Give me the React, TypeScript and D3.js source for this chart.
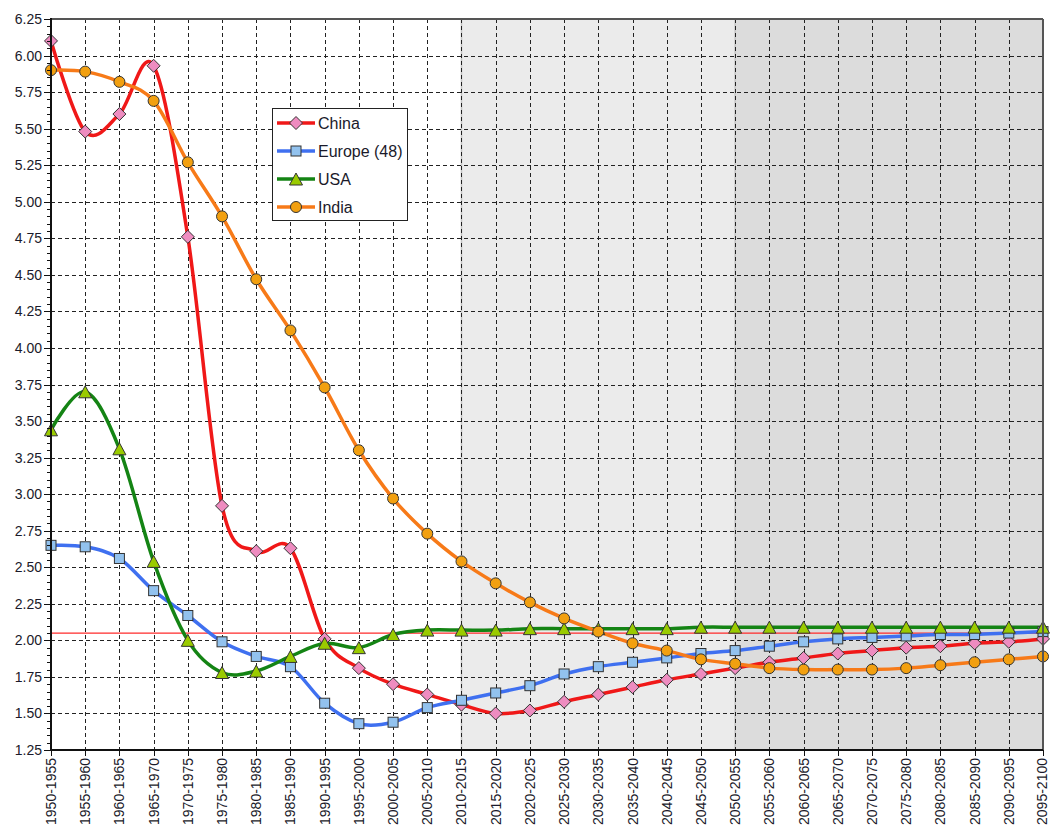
import React from "react";
import * as d3 from "d3";

const periods = [
  "1950-1955","1955-1960","1960-1965","1965-1970","1970-1975","1975-1980","1980-1985","1985-1990","1990-1995","1995-2000",
  "2000-2005","2005-2010","2010-2015","2015-2020","2020-2025","2025-2030","2030-2035","2035-2040","2040-2045","2045-2050",
  "2050-2055","2055-2060","2060-2065","2065-2070","2070-2075","2075-2080","2080-2085","2085-2090","2090-2095","2095-2100",
];

const china = [6.10, 5.48, 5.60, 5.93, 4.76, 2.92, 2.61, 2.63, 2.01, 1.81, 1.70, 1.63, 1.56, 1.50, 1.52, 1.58, 1.63, 1.68, 1.73, 1.77, 1.81, 1.85, 1.88, 1.91, 1.93, 1.95, 1.96, 1.98, 1.99, 2.01];
const europe = [2.65, 2.64, 2.56, 2.34, 2.17, 1.99, 1.89, 1.82, 1.57, 1.43, 1.44, 1.54, 1.59, 1.64, 1.69, 1.77, 1.82, 1.85, 1.88, 1.91, 1.93, 1.96, 1.99, 2.01, 2.02, 2.03, 2.04, 2.04, 2.05, 2.06];
const usa = [3.44, 3.70, 3.31, 2.54, 2.00, 1.78, 1.79, 1.89, 1.98, 1.95, 2.04, 2.07, 2.07, 2.07, 2.08, 2.08, 2.08, 2.08, 2.08, 2.09, 2.09, 2.09, 2.09, 2.09, 2.09, 2.09, 2.09, 2.09, 2.09, 2.09];
const india = [5.90, 5.89, 5.82, 5.69, 5.27, 4.90, 4.47, 4.12, 3.73, 3.30, 2.97, 2.73, 2.54, 2.39, 2.26, 2.15, 2.06, 1.98, 1.93, 1.87, 1.84, 1.81, 1.80, 1.80, 1.80, 1.81, 1.83, 1.85, 1.87, 1.89];

const seriesNames = ["China", "Europe (48)", "USA", "India"];
const replacementLevel = 2.05;
const yMajorTicks = d3.range(1.25, 6.2501, 0.25);
const yMinorTicks = d3.range(1.25, 6.2501, 0.05);
const shadeStartLight = "2010-2015";
const shadeStartDark = "2050-2055";

const L = 51, R = 1043, T = 19, B = 750;
const FONT = "'Liberation Sans', Arial, sans-serif";

type Series = { name: string; values: number[]; line: string; fill: string; marker: string };
const series: Series[] = [
  { name: seriesNames[0], values: china, line: "#f01818", fill: "#ee8cc0", marker: "diamond" },
  { name: seriesNames[1], values: europe, line: "#3f70f0", fill: "#92c2ee", marker: "square" },
  { name: seriesNames[2], values: usa, line: "#148414", fill: "#9acb00", marker: "triangle" },
  { name: seriesNames[3], values: india, line: "#f77a18", fill: "#f2a010", marker: "circle" },
];

function Marker({ type, x, y, fill }: { type: string; x: number; y: number; fill: string }) {
  const stroke = "#333";
  if (type === "diamond") {
    const s = 6.5;
    return <path d={`M${x},${y - s}L${x + s},${y}L${x},${y + s}L${x - s},${y}Z`} fill={fill} stroke={stroke} strokeWidth={1} />;
  }
  if (type === "square") {
    const s = 5;
    return <rect x={x - s} y={y - s} width={2 * s} height={2 * s} fill={fill} stroke={stroke} strokeWidth={1} />;
  }
  if (type === "triangle") {
    const w = 6.5, h = 12;
    return <path d={`M${x},${y - h / 2}L${x + w},${y + h / 2}L${x - w},${y + h / 2}Z`} fill={fill} stroke={stroke} strokeWidth={1} />;
  }
  return <circle cx={x} cy={y} r={5.5} fill={fill} stroke={stroke} strokeWidth={1} />;
}

export default function App() {
  const x = d3.scalePoint<string>().domain(periods).range([L, R]);
  const y = d3.scaleLinear().domain([1.25, 6.25]).range([B, T]);
  const line = d3
    .line<number>()
    .x((_, i) => x(periods[i]) as number)
    .y((d) => y(d))
    .curve(d3.curveCatmullRom.alpha(0));
  const fmt = d3.format(".2f");
  const xl = x(shadeStartLight) as number;
  const xd = x(shadeStartDark) as number;

  return (
    <svg width={1050} height={828} style={{ position: "absolute", left: 0, top: 0, background: "#fff" }}>
      {/* shading */}
      <rect x={xl} y={T} width={xd - xl} height={B - T} fill="#ebebeb" />
      <rect x={xd} y={T} width={R - xd} height={B - T} fill="#dcdcdc" />
      <line x1={xl} x2={xl} y1={T} y2={B} stroke="#c4c4c4" strokeWidth={1.5} />
      <line x1={xd} x2={xd} y1={T} y2={B} stroke="#c4c4c4" strokeWidth={1.5} />

      {/* grid */}
      {yMajorTicks.filter((v) => v > 1.26 && v < 6.24).map((v) => (
        <line key={"gy" + v} x1={L} x2={R} y1={Math.round(y(v)) + 0.5} y2={Math.round(y(v)) + 0.5} stroke="#222" strokeWidth={1} strokeDasharray="4,3" />
      ))}
      {periods.slice(1, -1).map((p) => (
        <line key={"gx" + p} x1={Math.round(x(p) as number) + 0.5} x2={Math.round(x(p) as number) + 0.5} y1={T} y2={B} stroke="#222" strokeWidth={1} strokeDasharray="4,3" />
      ))}

      {/* replacement line */}
      <line x1={L} x2={R} y1={y(replacementLevel)} y2={y(replacementLevel)} stroke="#ff2a2a" strokeWidth={1.3} />

      {/* series lines */}
      {series.map((s) => (
        <path key={"l" + s.name} d={line(s.values) as string} fill="none" stroke={s.line} strokeWidth={3.5} strokeLinejoin="round" />
      ))}
      {/* markers */}
      {series.map((s) =>
        s.values.map((v, i) => (
          <Marker key={s.name + i} type={s.marker} x={x(periods[i]) as number} y={y(v)} fill={s.fill} />
        ))
      )}

      {/* frame */}
      <line x1={L} x2={R} y1={T} y2={T} stroke="#555" strokeWidth={2} />
      <line x1={R} x2={R} y1={T} y2={B} stroke="#555" strokeWidth={2} />
      <line x1={L} x2={L} y1={T - 1} y2={B + 1} stroke="#111" strokeWidth={2} />
      <line x1={L - 1} x2={R} y1={B} y2={B} stroke="#111" strokeWidth={2} />

      {/* y ticks */}
      {yMinorTicks.map((v, i) => (
        <line key={"ym" + i} x1={L - (i % 5 === 0 ? 7 : 4)} x2={L} y1={Math.round(y(v)) + 0.5} y2={Math.round(y(v)) + 0.5} stroke="#111" strokeWidth={1} />
      ))}
      {yMajorTicks.map((v) => (
        <text key={"yt" + v} x={42} y={y(v)} dy="0.36em" textAnchor="end" fontFamily={FONT} fontSize={14} fill="#1a1a2a">
          {fmt(v)}
        </text>
      ))}

      {/* x ticks */}
      {periods.map((p, i) => {
        const px = Math.round(x(p) as number) + 0.5;
        const tx = i === periods.length - 1 ? px - 1.5 : px;
        return (
          <g key={"xt" + p}>
            <line x1={px} x2={px} y1={B} y2={B + 6} stroke="#111" strokeWidth={1} />
            <text transform={`translate(${tx},${B + 8}) rotate(-90)`} dy="0.34em" textAnchor="end" fontFamily={FONT} fontSize={14} fill="#1a1a2a">
              {p}
            </text>
          </g>
        );
      })}

      {/* legend */}
      <g>
        <rect x={272.5} y={108.5} width={135} height={112} fill="#fff" stroke="#222" strokeWidth={1} />
        {series.map((s, i) => {
          const ly = 123 + i * 28;
          return (
            <g key={"lg" + s.name}>
              <line x1={277} x2={315} y1={ly} y2={ly} stroke={s.line} strokeWidth={3.5} />
              <Marker type={s.marker} x={296} y={ly} fill={s.fill} />
              <text x={318} y={ly} dy="0.36em" fontFamily={FONT} fontSize={16} fill="#1a1a2a">
                {s.name}
              </text>
            </g>
          );
        })}
      </g>
    </svg>
  );
}
